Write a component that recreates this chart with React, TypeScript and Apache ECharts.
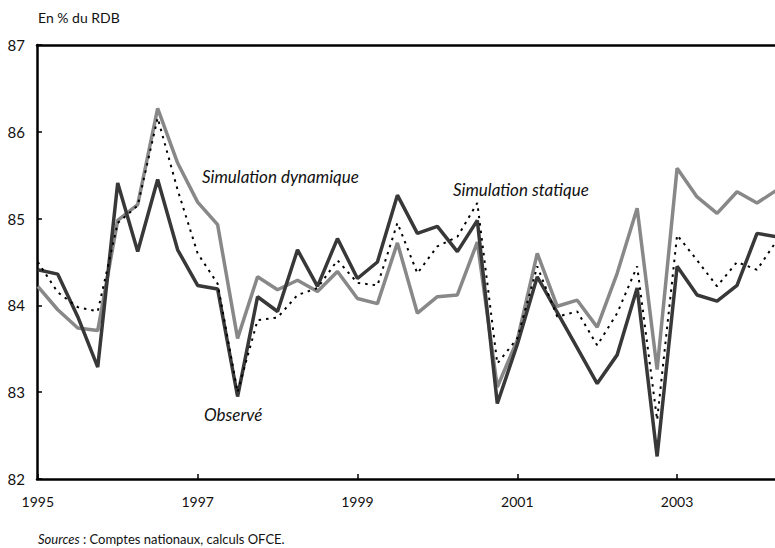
import React, { useEffect, useRef } from "react";
import * as echarts from "echarts";

const startYear = 1995;
const xTicks = [1995, 1997, 1999, 2001, 2003];
const observe = [84.41, 84.36, 83.87, 83.29, 85.41, 84.62, 85.45, 84.64, 84.23, 84.19, 82.95, 84.10, 83.93, 84.64, 84.22, 84.77, 84.31, 84.50, 85.27, 84.83, 84.91, 84.62, 84.98, 82.87, 83.55, 84.33, 83.92, 83.51, 83.10, 83.43, 84.20, 82.26, 84.45, 84.12, 84.05, 84.23, 84.83, 84.79];
const simDynamique = [84.22, 83.95, 83.74, 83.71, 84.98, 85.16, 86.27, 85.64, 85.19, 84.93, 83.62, 84.33, 84.18, 84.29, 84.16, 84.39, 84.08, 84.02, 84.72, 83.91, 84.10, 84.12, 84.73, 83.06, 83.60, 84.60, 83.99, 84.06, 83.75, 84.37, 85.12, 83.26, 85.58, 85.25, 85.06, 85.31, 85.18, 85.33];
const simStatique = [84.50, 84.15, 83.98, 83.93, 84.95, 85.15, 86.16, 85.33, 84.60, 84.25, 83.00, 83.83, 83.86, 84.12, 84.20, 84.52, 84.26, 84.23, 84.95, 84.37, 84.68, 84.79, 85.18, 83.33, 83.62, 84.45, 83.87, 83.93, 83.54, 83.91, 84.45, 82.68, 84.81, 84.52, 84.22, 84.50, 84.41, 84.75];

const toPairs = (vals: number[]) => vals.map((v, i) => [startYear + i / 4, v]);

const FONT = "Lato, 'Open Sans', sans-serif";

export default function App() {
  const ref = useRef<HTMLDivElement>(null);
  useEffect(() => {
    if (!ref.current) return;
    const chart = echarts.init(ref.current, null, { renderer: "svg" });
    chart.setOption({
      animation: false,
      backgroundColor: "#fff",
      grid: { left: 37, right: 0, top: 45, bottom: 69, containLabel: false },
      xAxis: [
        {
          type: "value",
          min: 1994.99,
          max: 2004.225,
          position: "bottom",
          axisLine: { show: true, lineStyle: { color: "#000", width: 2.5 } },
          axisTick: { show: true, inside: true, length: 5, customValues: xTicks, lineStyle: { color: "#000", width: 1.5 } },
          axisLabel: {
            show: true,
            margin: 15,
            color: "#111",
            fontFamily: FONT,
            fontSize: 14,
            customValues: xTicks,
            hideOverlap: false,
            formatter: (v: number) => String(Math.round(v)),
          },
          splitLine: { show: false },
        },
        {
          type: "value",
          min: 1994.99,
          max: 2004.225,
          position: "top",
          axisLine: { show: true, onZero: false, lineStyle: { color: "#000", width: 2.5 } },
          axisTick: { show: false },
          axisLabel: { show: false },
          splitLine: { show: false },
        },
      ],
      yAxis: {
        type: "value",
        min: 82,
        max: 87,
        interval: 1,
        axisLine: { show: true, lineStyle: { color: "#000", width: 2.5 } },
        axisTick: { show: true, inside: true, length: 5, lineStyle: { color: "#000", width: 1.5 } },
        axisLabel: { margin: 12, color: "#111", fontFamily: FONT, fontSize: 15 },
        splitLine: { show: false },
      },
      series: [
        {
          name: "Simulation dynamique",
          type: "line",
          data: toPairs(simDynamique),
          showSymbol: false,
          lineStyle: { color: "#888888", width: 3.5 },
          z: 2,
        },
        {
          name: "Observé",
          type: "line",
          data: toPairs(observe),
          showSymbol: false,
          lineStyle: { color: "#383838", width: 3.5 },
          z: 3,
        },
        {
          name: "Simulation statique",
          type: "line",
          data: toPairs(simStatique),
          showSymbol: false,
          lineStyle: { color: "#000", width: 2, type: [2.5, 5] },
          z: 4,
        },
      ],
      graphic: [
        { type: "text", left: 38, top: 10, style: { text: "En % du RDB", fill: "#111", font: `14px ${FONT}` } },
        { type: "text", left: 202, top: 168, style: { text: "Simulation dynamique", fill: "#111", font: `italic 17px ${FONT}` } },
        { type: "text", left: 453, top: 181, style: { text: "Simulation statique", fill: "#111", font: `italic 17px ${FONT}` } },
        { type: "text", left: 204, top: 406, style: { text: "Observé", fill: "#111", font: `italic 17px ${FONT}` } },
        {
          type: "text",
          left: 38,
          top: 532,
          style: {
            text: "{i|Sources} : Comptes nationaux, calculs OFCE.",
            fill: "#111",
            font: `13px ${FONT}`,
            rich: { i: { fontStyle: "italic", fontSize: 13, fontFamily: FONT, fill: "#111" } },
          },
        },
      ],
    });
    return () => chart.dispose();
  }, []);
  return <div ref={ref} style={{ position: "fixed", left: 0, top: 0, width: 775, height: 548 }} />;
}
